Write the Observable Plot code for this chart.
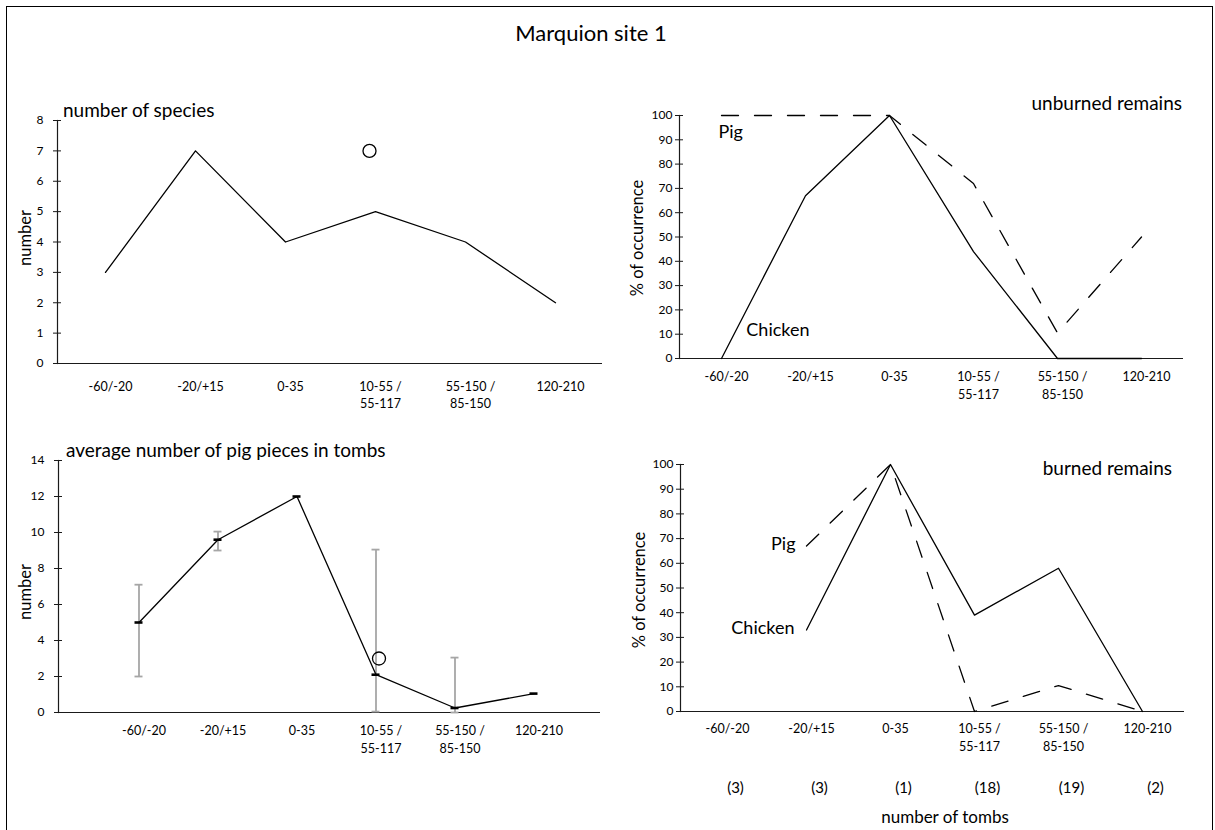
<!DOCTYPE html>
<html><head><meta charset="utf-8">
<script src="https://cdn.jsdelivr.net/npm/d3@7"></script>
<script src="https://cdn.jsdelivr.net/npm/@observablehq/plot@0.6"></script>
<style>
body{margin:0;background:#fff;font-family:Lato,"Open Sans",sans-serif;}
#fig{position:relative;width:1215px;height:830px;overflow:hidden;background:#fff;}
#border{position:absolute;left:6px;top:6px;width:1205px;height:900px;border:1px solid #000;}
#fig svg{position:absolute;left:0;top:0;}
.t{position:absolute;white-space:nowrap;color:#000;line-height:1;font-family:Lato,sans-serif;}
.c{transform:translate(-50%,-50%);}
.r{transform:translate(-50%,-50%) rotate(-90deg);}
</style></head><body>
<div id="fig"><div id="border"></div></div>
<script>
// ---- data ----
const periods = ["-60/-20", "-20/+15", "0-35", "10-55 /\n55-117", "55-150 /\n85-150", "120-210"];
const speciesCount = [3, 7, 4, 5, 4, 2];
const speciesOutlier = [7];            // open circle at 10-55 / 55-117
const unburnedChicken = [0, 67, 100, 44, 0, 0];
const unburnedPig = [100, 100, 100, 72, 10.5, 50];
const pigPiecesMean = [5, 9.6, 12, 2.1, 0.25, 1.05];
const pigPiecesLow = [2, 9, null, 0.05, 0, null];
const pigPiecesHigh = [7.1, 10.05, null, 9.05, 3.05, null];
const pigPiecesOutlier = [3];           // open circle at 10-55 / 55-117
const burnedChicken = [null, 33, 100, 39, 58, 0];
const burnedPig = [null, 67, 100, 0, 10.5, 0];
const tombCounts = [3, 3, 1, 18, 19, 2];
const speciesTicks = [0, 1, 2, 3, 4, 5, 6, 7, 8];
const percentTicks = [0, 10, 20, 30, 40, 50, 60, 70, 80, 90, 100];
const piecesTicks = [0, 2, 4, 6, 8, 10, 12, 14];
const unburnedLabels = [{text: "Pig", period: periods[0], value: 93}, {text: "Chicken", period: periods[1], value: 11.5}];
const burnedLabels = [{text: "Pig", period: periods[1], value: 67.6}, {text: "Chicken", period: periods[1], value: 33.6}];

const rows = a => periods.map((p, i) => ({p, v: a[i]}));
const W = 1215, H = 830;
const AX = "#1a1a1a";

function panel({left, right, xRange, top, bottom, yDomain, ticks, tickPad, labelDy, marks}) {
  return Plot.plot({
    width: W, height: H,
    marginLeft: left, marginRight: W - right, marginTop: top, marginBottom: H - bottom,
    style: {background: "transparent", fontFamily: "Lato, sans-serif", fontSize: "12px", color: "#000", overflow: "visible"},
    x: {type: "band", domain: periods, range: xRange, padding: 0, axis: null},
    y: {domain: yDomain},
    marks: [
      Plot.axisY(ticks, {tickSize: 8, dx: 4, tickPadding: tickPad, label: null, stroke: AX, fill: "#000", fontSize: 12}),
      Plot.frame({anchor: "left", stroke: AX, strokeWidth: 1.2}),
      Plot.ruleY([0], {stroke: AX, strokeWidth: 1.2}),
      Plot.text(periods, {x: d => d, frameAnchor: "bottom", lineAnchor: "top", dy: labelDy, dx: 5, lineHeight: 1.4, fontSize: 12.5, fill: "#000"}),
      ...marks
    ]
  });
}

const fig = document.getElementById("fig");

// top-left: number of species
fig.append(panel({
  left: 57, right: 602, xRange: [57, 602], top: 120, bottom: 363,
  yDomain: [0, 8], ticks: speciesTicks, tickPad: 10, labelDy: 15,
  marks: [
    Plot.line(rows(speciesCount), {x: "p", y: "v", stroke: "#000", strokeWidth: 1.3}),
    Plot.dot(speciesOutlier, {x: () => periods[3], y: d => d, r: 6.5, stroke: "#000", fill: "#fff", strokeWidth: 1.3, dx: -6})
  ]
}));

// top-right: unburned remains
fig.append(panel({
  left: 679, right: 1183, xRange: [679, 1183], top: 115, bottom: 358,
  yDomain: [0, 100], ticks: percentTicks, tickPad: 3, labelDy: 10.5,
  marks: [
    Plot.line(rows(unburnedChicken), {x: "p", y: "v", stroke: "#000", strokeWidth: 1.3}),
    Plot.line(rows(unburnedPig), {x: "p", y: "v", stroke: "#000", strokeWidth: 1.3, strokeDasharray: "17,16"}),
    Plot.text(unburnedLabels.slice(0, 1), {x: "period", y: "value", text: "text", textAnchor: "start", dx: -3, fontSize: 18, fill: "#000"}),
    Plot.text(unburnedLabels.slice(1), {x: "period", y: "value", text: "text", textAnchor: "end", dx: 4, fontSize: 18, fill: "#000"})
  ]
}));

// bottom-left: average number of pig pieces
const pieces = periods.map((p, i) => ({p, v: pigPiecesMean[i], lo: pigPiecesLow[i], hi: pigPiecesHigh[i]}));
const bars = pieces.filter(d => d.lo != null);
fig.append(panel({
  left: 58, right: 600, xRange: [98.5, 572.5], top: 460, bottom: 712,
  yDomain: [0, 14], ticks: piecesTicks, tickPad: 10, labelDy: 10.5,
  marks: [
    Plot.ruleX(bars, {x: "p", y1: "lo", y2: "hi", stroke: "#a6a6a6", strokeWidth: 1.8}),
    Plot.tickY(bars, {x: "p", y: "lo", stroke: "#a6a6a6", strokeWidth: 1.8, inset: 35.5}),
    Plot.tickY(bars, {x: "p", y: "hi", stroke: "#a6a6a6", strokeWidth: 1.8, inset: 35.5}),
    Plot.line(pieces, {x: "p", y: "v", stroke: "#000", strokeWidth: 1.3}),
    Plot.tickY(pieces, {x: "p", y: "v", stroke: "#000", strokeWidth: 2.6, inset: 35.5}),
    Plot.dot(pigPiecesOutlier, {x: () => periods[3], y: d => d, r: 6.5, stroke: "#000", fill: "none", strokeWidth: 1.3, dx: 3})
  ]
}));

// bottom-right: burned remains
fig.append(panel({
  left: 680, right: 1184, xRange: [680, 1184], top: 464, bottom: 711,
  yDomain: [0, 100], ticks: percentTicks, tickPad: 3, labelDy: 9.5,
  marks: [
    Plot.line(rows(burnedChicken), {x: "p", y: "v", stroke: "#000", strokeWidth: 1.3}),
    Plot.line(rows(burnedPig), {x: "p", y: "v", stroke: "#000", strokeWidth: 1.3, strokeDasharray: "17,16"}),
    Plot.text(burnedLabels.slice(0, 1), {x: "period", y: "value", text: "text", textAnchor: "end", dx: -11, fontSize: 18, fill: "#000"}),
    Plot.text(burnedLabels.slice(1), {x: "period", y: "value", text: "text", textAnchor: "end", dx: -12, fontSize: 18, fill: "#000"}),
    Plot.text(tombCounts, {x: (d, i) => periods[i], text: d => `(${d})`, frameAnchor: "bottom", dy: 81, dx: 13, fontSize: 15, fill: "#000"})
  ]
}));

// titles and axis titles (HTML text)
const texts = [
  {t: "Marquion site 1", x: 591, y: 33, s: 22, cls: "c"},
  {t: "number of species", x: 63, y: 100, s: 19},
  {t: "average number of pig pieces in tombs", x: 66, y: 440, s: 19},
  {t: "unburned remains", xr: 1182, y: 93, s: 19},
  {t: "burned remains", xr: 1172, y: 458, s: 19},
  {t: "number of tombs", x: 945, y: 816, s: 17, cls: "c"},
  {t: "number", x: 25, y: 238, s: 16.5, cls: "r"},
  {t: "number", x: 25, y: 592, s: 16.5, cls: "r"},
  {t: "% of occurrence", x: 637, y: 238, s: 16.5, cls: "r"},
  {t: "% of occurrence", x: 639, y: 590, s: 16.5, cls: "r"}
];
for (const d of texts) {
  const el = document.createElement("div");
  el.className = "t" + (d.cls ? " " + d.cls : "");
  el.textContent = d.t;
  el.style.fontSize = d.s + "px";
  el.style.top = d.y + "px";
  if (d.xr != null) el.style.right = (W - d.xr) + "px"; else el.style.left = d.x + "px";
  fig.append(el);
}
</script>
</body></html>
